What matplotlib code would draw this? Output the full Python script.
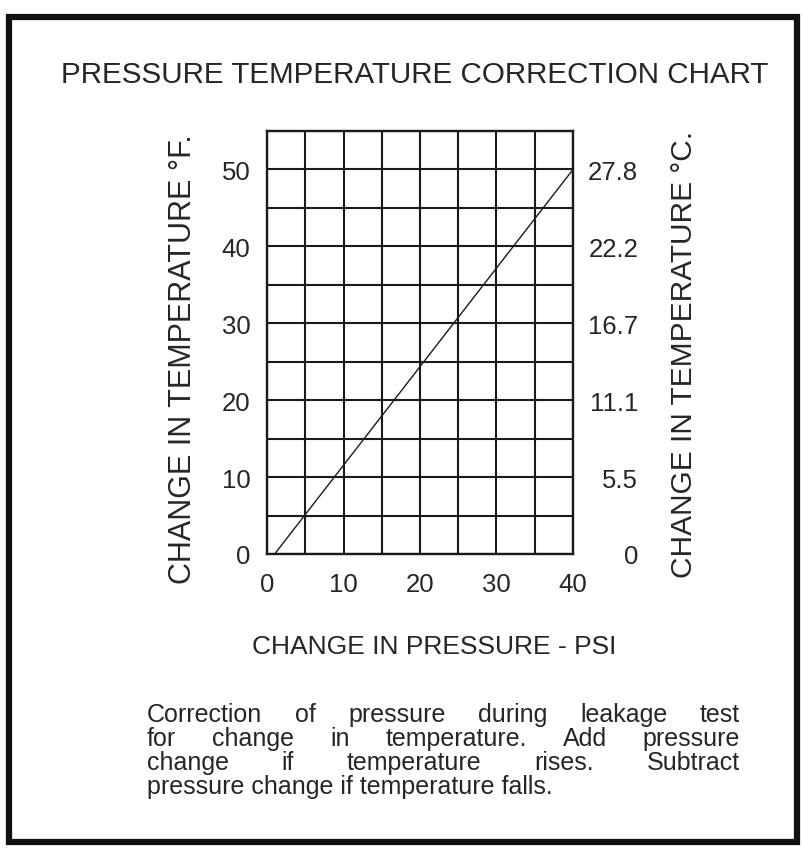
import matplotlib
matplotlib.use("Agg")
import matplotlib.pyplot as plt
from matplotlib.patches import Rectangle
from matplotlib.ticker import MultipleLocator

# ---- data ----
pressure_ticks = [0, 10, 20, 30, 40]
temp_f_ticks = [0, 10, 20, 30, 40, 50]
temp_c_labels = ["0", "5.5", "11.1", "16.7", "22.2", "27.8"]
line_psi = [1, 40]
line_temp_f = [0, 50]

title = "PRESSURE TEMPERATURE CORRECTION CHART"
xlabel = "CHANGE IN PRESSURE - PSI"
ylabel_left = "CHANGE IN TEMPERATURE °F."
ylabel_right = "CHANGE IN TEMPERATURE °C."
note_lines = [
    "Correction of pressure during leakage test",
    "for change in temperature. Add pressure",
    "change if temperature rises. Subtract",
    "pressure change if temperature falls.",
]

W, H = 804, 854
plt.rcParams['font.family'] = ['Liberation Sans', 'DejaVu Sans']
ink = '#262626'
fig = plt.figure(figsize=(W / 100, H / 100), dpi=100)
fig.patch.set_facecolor('white')

def fx(px):
    return px / W

def fy(py):
    return 1 - py / H

# border
fig.patches.append(Rectangle((fx(9), fy(843)), fx(797) - fx(9), fy(18) - fy(843),
                             transform=fig.transFigure, fill=False,
                             edgecolor='#111111', linewidth=4.5))

ax = fig.add_axes([fx(267), fy(555), fx(573) - fx(267), fy(132) - fy(555)])
ax.set_xlim(0, 40)
ax.set_ylim(0, 55)
ax.xaxis.set_minor_locator(MultipleLocator(5))
ax.yaxis.set_minor_locator(MultipleLocator(5))
ax.set_xticks(pressure_ticks)
ax.set_yticks(temp_f_ticks)
ax.grid(True, which='both', color='#1a1a1a', linewidth=1.5)
for s in ax.spines.values():
    s.set_color('#1a1a1a')
    s.set_linewidth(1.7)
ax.tick_params(which='both', length=0)
ax.tick_params(axis='x', pad=13, labelsize=18.5, labelcolor=ink)
ax.tick_params(axis='y', pad=12, labelsize=18.5, labelcolor=ink)
ax.plot(line_psi, line_temp_f, color='#1a1a1a', linewidth=1.0)

ax2 = ax.twinx()
ax2.set_ylim(0, 55)
ax2.set_yticks(temp_f_ticks)
ax2.set_yticklabels(temp_c_labels)
ax2.tick_params(length=0, pad=47, labelsize=18.5, labelcolor=ink)
for lab in ax2.get_yticklabels():
    lab.set_horizontalalignment('right')
for s in ax2.spines.values():
    s.set_visible(False)

fig.text(fx(415), fy(83), title, ha='center', va='baseline', fontsize=21.3, color=ink)
fig.text(fx(434), fy(654), xlabel, ha='center', va='baseline', fontsize=19, color=ink)
fig.text(fx(183), fy(359), ylabel_left, ha='center', va='center', rotation=90,
         fontsize=22, color=ink)
fig.text(fx(684), fy(354), ylabel_right, ha='center', va='center', rotation=90,
         fontsize=21.5, color=ink)

# justified note
fig.canvas.draw()
renderer = fig.canvas.get_renderer()
left_px, right_px = 147, 740
baselines = [722, 746, 770, 794]
note_fs = 18
for i, line in enumerate(note_lines):
    ypx = baselines[i]
    words = line.split(' ')
    if i < len(note_lines) - 1:
        widths = []
        for w in words:
            t = fig.text(0, 0, w, fontsize=note_fs)
            widths.append(t.get_window_extent(renderer).width)
            t.remove()
        gap = (right_px - left_px - sum(widths)) / (len(words) - 1)
        x = left_px
        for w, wd in zip(words, widths):
            fig.text(fx(x), fy(ypx), w, ha='left', va='baseline', fontsize=note_fs, color=ink)
            x += wd + gap
    else:
        fig.text(fx(left_px), fy(ypx), line, ha='left', va='baseline', fontsize=note_fs, color=ink)

fig.savefig('out.png', dpi=100)
